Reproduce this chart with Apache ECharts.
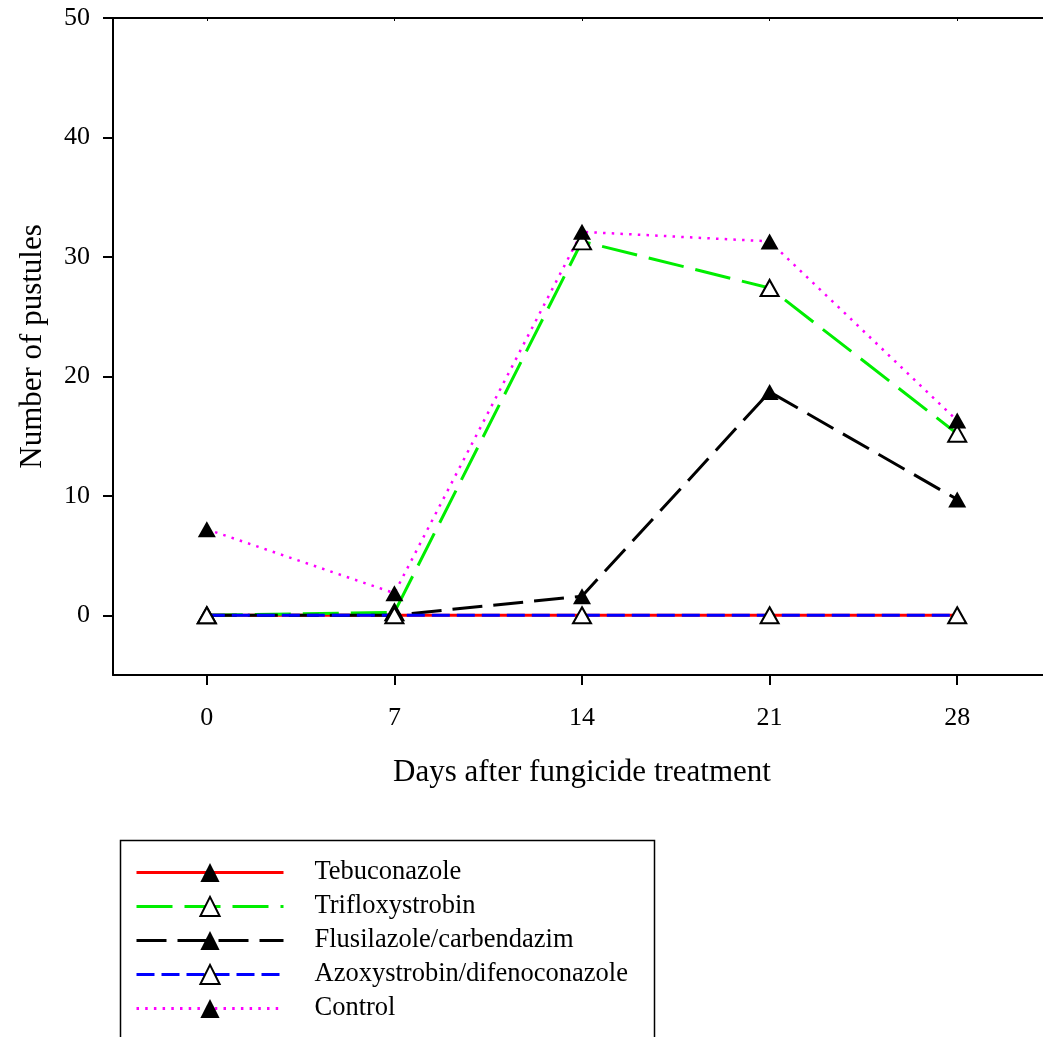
<!DOCTYPE html>
<html>
<head>
<meta charset="utf-8">
<script src="https://cdn.jsdelivr.net/npm/echarts@6/dist/echarts.min.js"></script>
<style>
  html, body { margin: 0; padding: 0; background: #fff; overflow: hidden; }
  #chart { width: 1051px; height: 1037px; }
</style>
</head>
<body>
<div id="chart"></div>
<script>
const days = [0, 7, 14, 21, 28]
const xTicks = [0, 7, 14, 21, 28]
const yTicks = [0, 10, 20, 30, 40, 50]

const tebuconazole = [0, 0, 0, 0, 0]
const trifloxystrobin = [0, 0.25, 31.3, 27.4, 15.2]
const flusilazole = [0, 0, 1.6, 18.7, 9.7]
const azoxystrobin = [0, 0, 0, 0, 0]
const control = [7.2, 1.85, 32.1, 31.3, 16.3]

const FONT = 'Liberation Serif'

const pairs = vals => days.map((d, i) => [d, vals[i]])

const makeSeries = (name, vals, color, dash, width, filled) => ({
  name: name,
  type: 'line',
  data: pairs(vals),
  symbol: 'triangle',
  symbolSize: [18, 16],
  showSymbol: true,
  lineStyle: { color: color, width: width, type: dash, cap: 'butt' },
  itemStyle: {
    color: filled ? '#000' : '#fff',
    borderColor: '#000',
    borderWidth: filled ? 0 : 2
  },
  emphasis: { disabled: true }
})

const chart = echarts.init(document.getElementById('chart'))

const option = {
  animation: false,
  backgroundColor: '#fff',
  textStyle: { fontFamily: FONT, color: '#000' },
  // plot box runs a little past the right edge of the picture, like the original
  grid: { left: 113, top: 18, right: 0, bottom: 362 },
  xAxis: [
    {
      type: 'value',
      min: -3.5,
      max: 31.5,
      name: 'Days after fungicide treatment',
      nameLocation: 'middle',
      nameGap: 82,
      nameTextStyle: { fontFamily: FONT, fontSize: 31, color: '#000' },
      axisLine: { onZero: false, lineStyle: { color: '#000', width: 2 } },
      axisTick: { customValues: xTicks, length: 10, lineStyle: { color: '#000', width: 2 } },
      axisLabel: { customValues: xTicks, margin: 30, fontFamily: FONT, fontSize: 26, color: '#000' },
      splitLine: { show: false }
    },
    {
      type: 'value',
      position: 'top',
      min: -3.5,
      max: 31.5,
      axisLine: { onZero: false, lineStyle: { color: '#000', width: 2 } },
      axisTick: { customValues: xTicks, inside: true, length: 3, lineStyle: { color: '#000', width: 1 } },
      axisLabel: { show: false },
      splitLine: { show: false }
    }
  ],
  yAxis: {
    type: 'value',
    min: -5,
    max: 50,
    name: 'Number of pustules',
    nameLocation: 'middle',
    nameGap: 65,
    nameTextStyle: { fontFamily: FONT, fontSize: 31, color: '#000' },
    axisLine: { show: true, onZero: false, lineStyle: { color: '#000', width: 2 } },
    axisTick: { show: true, customValues: yTicks, length: 10, lineStyle: { color: '#000', width: 2 } },
    axisLabel: { customValues: yTicks, margin: 23, fontFamily: FONT, fontSize: 26, color: '#000' },
    splitLine: { show: false }
  },
  legend: {
    orient: 'vertical',
    left: 135,
    top: 859,
    padding: 0,
    itemWidth: 147,
    itemHeight: 24,
    itemGap: 7,
    selectedMode: false,
    lineStyle: { width: 3 },
    textStyle: { fontFamily: FONT, fontSize: 26.5, color: '#000', padding: [0, 0, 0, 26] }
  },
  graphic: [
    {
      type: 'rect',
      left: 118,
      top: 838,
      shape: { width: 534, height: 260 },
      style: { fill: 'none', stroke: '#000', lineWidth: 1.5 },
      silent: true
    }
  ],
  series: [
    makeSeries('Tebuconazole', tebuconazole, '#ff0000', 'solid', 3, true),
    makeSeries('Trifloxystrobin', trifloxystrobin, '#00ee00', [36, 12], 3, false),
    makeSeries('Flusilazole/carbendazim', flusilazole, '#000000', [30, 11], 3, true),
    makeSeries('Azoxystrobin/difenoconazole', azoxystrobin, '#0000ff', [18, 7], 3, false),
    makeSeries('Control', control, '#ff00ff', [2.5, 6.2], 2.5, true)
  ]
}

chart.setOption(option)
</script>
</body>
</html>
